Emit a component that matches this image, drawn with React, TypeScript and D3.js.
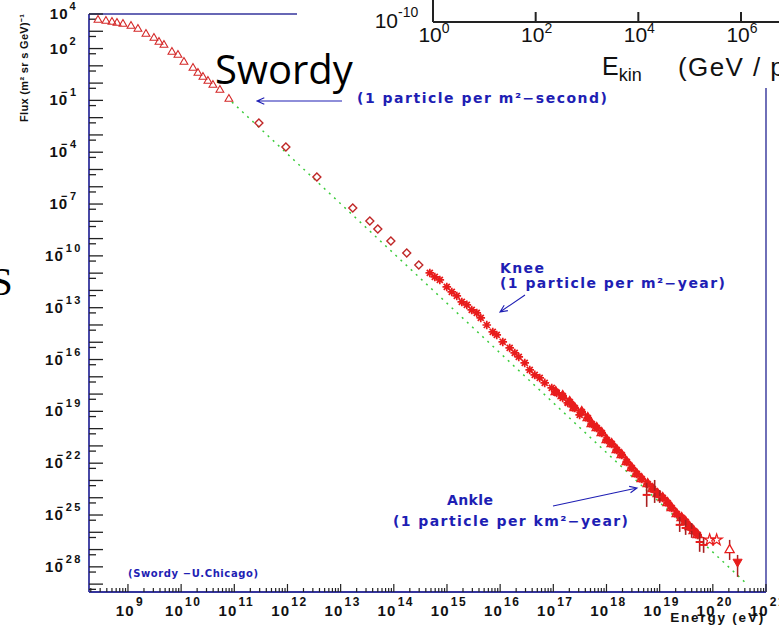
import React from "react";
import * as d3 from "d3";

const W = 779;
const H = 626;

// axis ranges (eV, flux)
const energyRange: [number, number] = [1.85e8, 1e21];
const fluxRange: [number, number] = [3.5e-30, 1e4];

const yLabelExps = [4, 2, -1, -4, -7, -10, -13, -16, -19, -22, -25, -28];
const xLabelExps = [9, 10, 11, 12, 13, 14, 15, 16, 17, 18, 19, 20, 21];

// direct measurements, open triangles
const lowE = [2.73e8, 3.85e8, 5.0e8, 6.21e8, 8.05e8, 1.14e9, 1.54e9, 2.18e9, 3.08e9, 3.83e9, 4.75e9, 6.71e9, 8.71e9, 1.13e10, 1.67e10, 2.07e10, 2.57e10, 3.19e10, 3.96e10, 5.36e10, 7.91e10];
const lowF = [4.5e3, 3.94e3, 3.44e3, 3.01e3, 2.64e3, 2.02e3, 1.36e3, 697, 408, 240, 161, 63.2, 42.4, 16.7, 7.5, 3.85, 2.26, 1.33, 0.778, 0.4, 0.12];

// open diamonds
const diaE = [2.9e11, 9.33e11, 3.57e12, 1.69e13, 3.54e13, 5.0e13, 8.8e13, 1.75e14, 2.95e14];
const diaF = [4.9e-3, 2.0e-4, 3.7e-6, 5.9e-8, 1.05e-8, 3.6e-9, 7.3e-10, 1.48e-10, 3.0e-11];

// air-shower data around the knee (asterisks)
const kneeE = [4.75e14, 5.9e14, 7.33e14, 9.91e14, 1.23e15, 1.53e15, 1.9e15, 2.36e15, 2.92e15, 3.63e15, 4.32e15, 5.6e15, 7.26e15, 8.63e15, 1.12e16, 1.51e16, 1.88e16, 2.24e16, 2.9e16, 3.6e16, 4.47e16, 5.55e16, 6.89e16, 9.33e16, 1.16e17, 1.5e17, 1.87e17, 2.32e17, 3.13e17];
const kneeF = [1.03e-11, 6.03e-12, 4.04e-12, 1.59e-12, 8.17e-13, 4.8e-13, 2.15e-13, 1.45e-13, 7.41e-14, 4.98e-14, 2.55e-14, 1.0e-14, 3.95e-15, 2.65e-15, 1.04e-15, 4.69e-16, 2.41e-16, 1.41e-16, 6.35e-17, 2.5e-17, 1.29e-17, 8.61e-18, 4.43e-18, 2.27e-18, 1.17e-18, 6.0e-19, 3.08e-19, 1.81e-19, 6.22e-20];

// high-energy open triangles
const highE = [1.11e17, 1.5e17, 2.03e17, 2.52e17, 3.42e17, 4.44e17, 5.27e17, 6.55e17, 8.13e17, 1.01e18, 1.25e18, 1.56e18, 1.93e18, 2.4e18, 2.98e18, 3.7e18, 4.59e18, 5.94e18, 7.38e18, 9.16e18, 1.14e19, 1.41e19, 1.68e19, 2.09e19, 2.59e19, 3.08e19, 3.66e19, 4.36e19, 5.18e19];
const highF = [1.33e-18, 7.83e-19, 3.52e-19, 1.58e-19, 9.29e-20, 4.17e-20, 1.87e-20, 1.1e-20, 5.65e-21, 2.22e-21, 1.31e-21, 5.87e-22, 3.01e-22, 1.19e-22, 5.33e-23, 2.4e-23, 1.23e-23, 6.32e-24, 3.25e-24, 1.67e-24, 9.79e-25, 5.02e-25, 2.58e-25, 1.16e-25, 6.81e-26, 4.0e-26, 2.05e-26, 1.2e-26, 7.08e-27];

// points with error bars
const errE = [5.7e18, 8.05e18, 1.0e19, 2.38e19, 3.08e19, 4.0e19, 5.65e19, 6.71e19];
const errF = [1.46e-24, 2.19e-24, 1.12e-24, 2.69e-26, 1.78e-26, 1.38e-26, 2.75e-27, 1.86e-27];
const errHi = [7.24e-24, 1.07e-23, 2.82e-24, 7.76e-26, 5.25e-26, 3.47e-26, 9.33e-27, 5.37e-27];
const errLo = [2.95e-25, 5.01e-25, 5.01e-25, 1.05e-26, 7.08e-27, 4.79e-27, 7.41e-28, 6.46e-28];

// highest-energy points
const starE = [8.71e19, 1.18e20];
const starF = [3.63e-27, 3.63e-27];
const topTriE = [2.07e20];
const topTriF = [9.55e-28];
const topTriHi = [3.63e-27];
const topTriLo = [2.51e-28];
const downTriE = [2.92e20];
const downTriF = [1.95e-28];
const downTriHi = [4.9e-28];
const downTriLo = [2.63e-29];

// E^-2.88 reference line
const refE = [9.02e10, 3.96e20];
const refF = [8.07e-2, 1.35e-29];

// inset (pasted chart) tick labels
const insetExps = ["0", "2", "4", "6"];

const FRAME = "#34349c";
const BLUE = "#1e1eb4";
const RED = "#e81c1c";
const DARKRED = "#a82020";

function arrowPath(x1: number, y1: number, x2: number, y2: number, len = 8, ang = 0.42) {
  const a = Math.atan2(y2 - y1, x2 - x1);
  const p1x = x2 - len * Math.cos(a - ang), p1y = y2 - len * Math.sin(a - ang);
  const p2x = x2 - len * Math.cos(a + ang), p2y = y2 - len * Math.sin(a + ang);
  return `M${x1},${y1}L${x2},${y2}M${p1x},${p1y}L${x2},${y2}L${p2x},${p2y}`;
}

export default function App() {
  const x = d3.scaleLog().domain(energyRange).range([89, 766]);
  const y = d3.scaleLog().domain(fluxRange).range([592, 14]);
  const xInset = d3.scaleLog().domain([1, 1e6]).range([433, 741]);

  const triUp = d3.symbol(d3.symbolTriangle, 26)() as string;
  const triBig = d3.symbol(d3.symbolTriangle, 36)() as string;
  const diamond = "M0,-4L4,0L0,4L-4,0Z";
  const star = d3.symbol(d3.symbolStar, 40)() as string;
  const asterisk = "M-4.3,0H4.3M0,-4.3V4.3M-3,-3L3,3M-3,3L3,-3";

  // y ticks
  const yTicks: { v: number; long: boolean }[] = [];
  for (let n = 4; n >= -30; n--) {
    const v = Math.pow(10, n);
    if (v <= fluxRange[1] && v >= fluxRange[0]) yTicks.push({ v, long: true });
    const h = 0.5 * v;
    if (h <= fluxRange[1] && h >= fluxRange[0]) yTicks.push({ v: h, long: false });
  }
  // x ticks
  const xTicks: { v: number; major: boolean }[] = [];
  for (let n = 8; n <= 21; n++) {
    for (let k = 1; k <= 9; k++) {
      const v = k * Math.pow(10, n);
      if (v >= energyRange[0] && v <= energyRange[1] * 1.0001) xTicks.push({ v, major: k === 1 });
    }
  }

  const refLine = d3
    .line<number>()
    .x((_, i) => x(refE[i]))
    .y((_, i) => y(refF[i]))(refE) as string;

  const labelFont = "'Liberation Sans', Arial, sans-serif";
  const annFont = "'DejaVu Sans', sans-serif";

  return (
    <div style={{ position: "absolute", left: 0, top: 0, width: W, height: H, background: "#fff" }}>
      <svg width={W} height={H} viewBox={`0 0 ${W} ${H}`} style={{ display: "block" }}>
        <rect x={0} y={0} width={W} height={H} fill="#fff" />

        {/* frame */}
        <line x1={89} y1={14} x2={766} y2={14} stroke={FRAME} strokeWidth={1.6} />
        <line x1={89} y1={14} x2={89} y2={592} stroke={FRAME} strokeWidth={1.8} />
        <line x1={89} y1={592} x2={766} y2={592} stroke={FRAME} strokeWidth={1.8} />
        <line x1={766} y1={14} x2={766} y2={592} stroke="#6060b0" strokeWidth={1.8} />

        {/* y ticks */}
        {yTicks.map((t, i) => (
          <line key={"yt" + i} x1={89} x2={89 + (t.long ? 14 : 7)} y1={y(t.v)} y2={y(t.v)} stroke="#222" strokeWidth={1.3} />
        ))}
        {/* x ticks */}
        {xTicks.map((t, i) => (
          <line key={"xt" + i} x1={x(t.v)} x2={x(t.v)} y1={592} y2={592 - (t.major ? 8 : 4)} stroke="#222" strokeWidth={1.2} />
        ))}

        {/* y labels */}
        {yLabelExps.map((n) => (
          <text key={"yl" + n} x={64} y={y(Math.pow(10, n)) + 5} textAnchor="middle" fontFamily={labelFont} fontWeight="bold" fontSize={15} fill="#111" letterSpacing={1}>
            10
            <tspan dx={n < 0 ? -7 : 1} dy={-9} fontSize={11} letterSpacing={2.5}>
              {n < 0 ? "\u2212" + Math.abs(n) : String(n)}
            </tspan>
          </text>
        ))}
        {/* x labels */}
        {xLabelExps.map((n) => (
          <text key={"xl" + n} x={x(Math.pow(10, n)) + 2} y={616} textAnchor="middle" fontFamily={labelFont} fontWeight="bold" fontSize={15} fill="#111" letterSpacing={1.2}>
            10
            <tspan dx={1} dy={-10} fontSize={12} letterSpacing={1.5}>
              {String(n)}
            </tspan>
          </text>
        ))}

        {/* axis titles */}
        <text transform="translate(28,68) rotate(-90)" textAnchor="middle" fontFamily={labelFont} fontWeight="bold" fontSize={11} fill="#111" textLength={108} lengthAdjust="spacing">
          Flux (m² sr s GeV)⁻¹
        </text>
        <text x={765} y={622} textAnchor="end" fontFamily={labelFont} fontWeight="bold" fontSize={13.5} fill="#111" letterSpacing={1.8}>
          Energy (eV)
        </text>

        {/* reference power law */}
        <path d={refLine} fill="none" stroke="#3ccc3c" strokeWidth={1.5} strokeDasharray="2,5" />

        {/* low-energy triangles */}
        {lowE.map((e, i) => (
          <path key={"lt" + i} d={triUp} transform={`translate(${x(e)},${y(lowF[i])})`} fill="none" stroke="#d42828" strokeWidth={1.1} />
        ))}
        {/* diamonds */}
        {diaE.map((e, i) => (
          <path key={"dm" + i} d={diamond} transform={`translate(${x(e)},${y(diaF[i])})`} fill="none" stroke="#c02828" strokeWidth={1.4} />
        ))}
        {/* knee asterisks */}
        {kneeE.map((e, i) => (
          <path key={"kn" + i} d={asterisk} transform={`translate(${x(e)},${y(kneeF[i])})`} fill="none" stroke={RED} strokeWidth={1.7} />
        ))}
        {/* high-energy triangles */}
        {highE.map((e, i) => (
          <g key={"hi" + i} transform={`translate(${x(e)},${y(highF[i])})`}>
            <path d={asterisk} fill="none" stroke={RED} strokeWidth={2.2} />
            <path d={triBig} fill="none" stroke={RED} strokeWidth={1.4} />
          </g>
        ))}
        {/* error bar points */}
        {errE.map((e, i) => (
          <g key={"eb" + i}>
            <line x1={x(e)} x2={x(e)} y1={y(errHi[i])} y2={y(errLo[i])} stroke={DARKRED} strokeWidth={1.6} />
            <line x1={x(e) - 4} x2={x(e) + 4} y1={y(errF[i])} y2={y(errF[i])} stroke={RED} strokeWidth={2} />
          </g>
        ))}
        {/* stars */}
        {starE.map((e, i) => (
          <path key={"st" + i} d={star} transform={`translate(${x(e)},${y(starF[i])})`} fill="none" stroke={RED} strokeWidth={1.2} />
        ))}
        {topTriE.map((e, i) => (
          <g key={"tt" + i}>
            <line x1={x(e)} x2={x(e)} y1={y(topTriHi[i])} y2={y(topTriLo[i])} stroke={DARKRED} strokeWidth={1.5} />
            <path d={triBig} transform={`translate(${x(e)},${y(topTriF[i])})`} fill="#fff" stroke={RED} strokeWidth={1.3} />
          </g>
        ))}
        {downTriE.map((e, i) => (
          <g key={"dt" + i}>
            <line x1={x(e)} x2={x(e)} y1={y(downTriHi[i])} y2={y(downTriLo[i])} stroke={DARKRED} strokeWidth={1.5} />
            <path d={triBig} transform={`translate(${x(e)},${y(downTriF[i])}) rotate(180)`} fill={RED} stroke={RED} strokeWidth={1} />
          </g>
        ))}

        {/* annotations */}
        <path d={arrowPath(342, 101, 257, 101)} fill="none" stroke={BLUE} strokeWidth={1.1} />
        <text x={357} y={103} fontFamily={annFont} fontWeight="bold" fontSize={14} fill={BLUE} textLength={250} lengthAdjust="spacing">
          (1 particle per m²−second)
        </text>
        <text x={500} y={273} fontFamily={annFont} fontWeight="bold" fontSize={14} fill={BLUE} textLength={44} lengthAdjust="spacing">
          Knee
        </text>
        <text x={500} y={288} fontFamily={annFont} fontWeight="bold" fontSize={14} fill={BLUE} textLength={225} lengthAdjust="spacing">
          (1 particle per m²−year)
        </text>
        <path d={arrowPath(525, 295, 500, 312)} fill="none" stroke={BLUE} strokeWidth={1.1} />
        <text x={447} y={505} fontFamily={annFont} fontWeight="bold" fontSize={14} fill={BLUE} textLength={46} lengthAdjust="spacing">
          Ankle
        </text>
        <text x={393} y={526} fontFamily={annFont} fontWeight="bold" fontSize={14} fill={BLUE} textLength={235} lengthAdjust="spacing">
          (1 particle per km²−year)
        </text>
        <path d={arrowPath(553, 506, 637, 488)} fill="none" stroke={BLUE} strokeWidth={1.1} />
        <text x={128} y={577} fontFamily={annFont} fontWeight="bold" fontSize={10} fill={BLUE} textLength={130} lengthAdjust="spacing">
          (Swordy −U.Chicago)
        </text>

        {/* pasted inset patch (other chart's axis) */}
        <rect x={297} y={0} width={W - 297} height={88} fill="#fff" />
        <line x1={433} y1={0} x2={433} y2={22} stroke="#222" strokeWidth={2} />
        <line x1={433} y1={22} x2={W} y2={22} stroke="#222" strokeWidth={2} />
        {insetExps.slice(1).map((e) => (
          <line key={"pt" + e} x1={xInset(Math.pow(10, +e))} x2={xInset(Math.pow(10, +e))} y1={22} y2={12} stroke="#222" strokeWidth={2} />
        ))}
        <text x={398} y={28} textAnchor="end" fontFamily={labelFont} fontSize={21} fill="#111">10</text>
        <text x={398} y={17} fontFamily={labelFont} fontSize={14} fill="#111">-10</text>
        {insetExps.map((e) => (
          <text key={"pl" + e} x={xInset(Math.pow(10, +e)) + 1} y={42} textAnchor="middle" fontFamily={labelFont} fontSize={21} fill="#111">
            10
            <tspan dy={-9} fontSize={14}>{e}</tspan>
          </text>
        ))}
        <text x={602} y={75} fontFamily={labelFont} fontSize={25} fill="#111">
          E<tspan dy={6} fontSize={18}>kin</tspan>
        </text>
        <text x={678} y={76} fontFamily={labelFont} fontSize={26} fill="#111" letterSpacing={1.4}>(GeV / p)</text>

        {/* overlay captions */}
        <text x={215} y={84} fontFamily="'Open Sans', 'Noto Sans', sans-serif" fontSize={40} fill="#000">
          Swordy
        </text>
        <text x={-10} y={295} fontFamily="'Liberation Serif', 'DejaVu Serif', serif" fontSize={41} fill="#000">
          S
        </text>
      </svg>
    </div>
  );
}
